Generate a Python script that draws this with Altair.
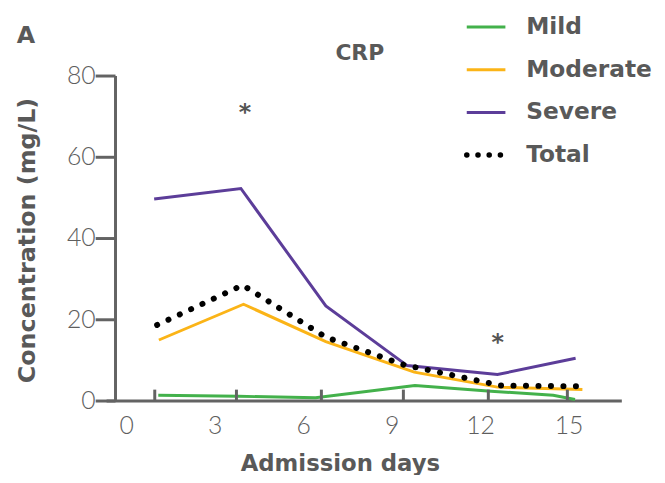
import altair as alt
import pandas as pd

# ---- data ----
series_names = ["Mild", "Moderate", "Severe", "Total"]
mild_days = [1.09, 3.8, 6.42, 9.79, 12.37, 14.48, 15.22]
mild_vals = [1.3, 1.05, 0.66, 3.7, 2.3, 1.3, 0.25]
moderate_days = [1.11, 3.98, 6.77, 9.77, 12.59, 15.47]
moderate_vals = [14.9, 23.7, 14.5, 7.0, 3.3, 2.7]
severe_days = [0.95, 3.89, 6.77, 9.53, 12.59, 15.24]
severe_vals = [49.6, 52.2, 23.3, 8.6, 6.4, 10.4]
total_days = [1.05, 3.95, 6.77, 9.41, 12.70, 15.44]
total_vals = [18.6, 28.4, 15.6, 8.8, 3.7, 3.5]
star_days = [4.03, 12.6]
star_vals = [71.6, 15.0]
x_tick_labels = [0, 3, 6, 9, 12, 15]
x_tick_marks = [0.97, 3.74, 6.62, 9.40, 12.28, 14.96]
y_ticks = [0, 20, 40, 60, 80]

series_colors = ["#43b14b", "#fbb417", "#5c3d99", "#000000"]
AX = "#636363"
TXT = "#595959"
BOLD = "DejaVu Sans"
THIN = "Lato"

rows = []
for name, xs, ys in [("Mild", mild_days, mild_vals),
                     ("Moderate", moderate_days, moderate_vals),
                     ("Severe", severe_days, severe_vals),
                     ("Total", total_days, total_vals)]:
    for i, (a, b) in enumerate(zip(xs, ys)):
        rows.append({"series": name, "day": a, "value": b, "order": i})
df = pd.DataFrame(rows)

W, H = 520, 328

xscale = alt.Scale(domain=[-0.68, 16.79], nice=False, zero=False)
yscale = alt.Scale(domain=[0, 80], nice=False, zero=False)

X = alt.X("day:Q", scale=xscale,
          axis=alt.Axis(values=x_tick_labels, title="Admission days", ticks=False, tickSize=0,
                        grid=False, domainColor=AX, domainWidth=3,
                        labelFont=THIN, labelFontWeight=300, labelFontSize=25, labelColor="#5e5e5e",
                        labelPadding=13, labelFlush=False,
                        titleFont=BOLD, titleFontSize=23, titleFontWeight="bold", titleColor=TXT,
                        titleX=236, titleY=71, titleBaseline="alphabetic", titleAlign="center"))
Y = alt.Y("value:Q", scale=yscale,
          axis=alt.Axis(values=y_ticks, title="Concentration (mg/L)", grid=False, offset=-9,
                        domainColor=AX, domainWidth=3, tickColor=AX, tickWidth=3, tickSize=20,
                        labelFont=THIN, labelFontWeight=300, labelFontSize=25, labelColor="#5e5e5e",
                        labelPadding=0, labelFlush=False,
                        titleFont=BOLD, titleFontSize=24, titleFontWeight="bold", titleColor=TXT,
                        titleX=-88, titleY=166, titleAngle=270, titleBaseline="middle",
                        titleAlign="center"))

color_scale = alt.Scale(domain=series_names[:3], range=series_colors[:3])

lines = alt.Chart(df[df.series != "Total"]).mark_line(strokeWidth=3).encode(
    x=X, y=Y,
    color=alt.Color("series:N", scale=color_scale, legend=None),
    detail="series:N",
    order="order:Q",
)

total = alt.Chart(df[df.series == "Total"]).mark_line(
    strokeWidth=6, strokeDash=[0.1, 12.5], strokeCap="round", color="#000000"
).encode(x=X, y=Y, order="order:Q")

ticks = alt.Chart(pd.DataFrame({"day": x_tick_marks})).mark_rule(
    color=AX, strokeWidth=3).encode(x=X, y=alt.value(H), y2=alt.value(H - 11))

stars = alt.Chart(pd.DataFrame({"day": star_days, "value": star_vals, "t": ["*", "*"]})).mark_text(
    font=BOLD, fontSize=24, fontWeight="bold", color="#555555", baseline="middle", dy=3
).encode(x=X, y=Y, text="t:N")

panel = alt.Chart(pd.DataFrame({"t": ["A"]})).mark_text(
    font=BOLD, fontSize=24, fontWeight="bold", color=TXT, baseline="middle", align="center"
).encode(x=alt.value(-81), y=alt.value(-40), text="t:N")

title = alt.Chart(pd.DataFrame({"t": ["CRP"]})).mark_text(
    font=BOLD, fontSize=22, fontWeight="bold", color=TXT, baseline="middle", align="center"
).encode(x=alt.value(256), y=alt.value(-23), text="t:N")

legend_layers = []
for i, name in enumerate(series_names):
    ly = -49 + i * 43.1
    src = alt.Chart(pd.DataFrame({"series": [name]}))
    if name == "Total":
        sym = src.mark_rule(strokeWidth=5.5, strokeDash=[0.1, 11.2], strokeCap="round",
                            color=series_colors[i])
    else:
        sym = src.mark_rule(strokeWidth=3, color=series_colors[i])
    legend_layers.append(sym.encode(x=alt.value(364), x2=alt.value(403),
                                    y=alt.value(ly), y2=alt.value(ly)))
    legend_layers.append(src.mark_text(font=BOLD, fontSize=23.5, fontWeight="bold", color=TXT,
                                       align="left", baseline="middle").encode(
        x=alt.value(424), y=alt.value(ly), text="series:N"))

chart = alt.layer(lines, total, ticks, stars, panel, title, *legend_layers).properties(
    width=W, height=H,
    background="white",
    autosize=alt.AutoSizeParams(type="none"),
    padding={"left": 99, "top": 66, "right": 36, "bottom": 73},
).configure_view(stroke=None)

chart.save("out.html", embed_options={"renderer": "svg", "actions": False})
